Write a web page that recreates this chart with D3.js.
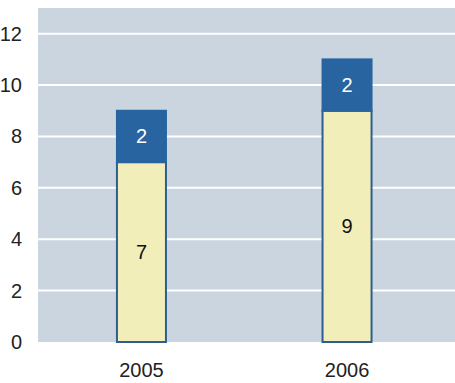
<!DOCTYPE html>
<html><head><meta charset="utf-8">
<script src="https://cdn.jsdelivr.net/npm/d3@7"></script>
<style>body{margin:0;background:#fff}svg{display:block}text{font-family:"Liberation Sans",Arial,sans-serif}</style>
</head><body>
<script>
const categories = ["2005", "2006"];
const lowerValues = [7, 9];
const upperValues = [2, 2];
const yTicks = [0, 2, 4, 6, 8, 10, 12];

const W = 455, H = 383;
const plot = {left: 38, right: 455, top: 8, bottom: 342};
const svg = d3.select("body").append("svg").attr("width", W).attr("height", H);

const y = d3.scaleLinear().domain([0, 13]).range([plot.bottom, plot.top]);
const x = d3.scaleBand().domain(categories).range([38, 450.5]).paddingInner(0.7616).paddingOuter(0.384);

svg.append("rect").attr("x", plot.left).attr("y", plot.top)
  .attr("width", plot.right - plot.left).attr("height", plot.bottom - plot.top)
  .attr("fill", "#CBD5E0");

svg.selectAll(".grid").data(yTicks.filter(d => d > 0)).enter().append("line")
  .attr("x1", plot.left).attr("x2", plot.right)
  .attr("y1", d => y(d)).attr("y2", d => y(d))
  .attr("stroke", "#fff").attr("stroke-width", 2);

const FS = 20;
const yAxis = d3.axisLeft(y).tickValues(yTicks).tickSize(0).tickPadding(0);
const ya = svg.append("g").attr("transform", "translate(22,0)").call(yAxis);
ya.select(".domain").remove();
ya.selectAll("text").attr("font-size", FS).attr("fill", "#222").attr("font-family", '"Liberation Sans",Arial,sans-serif');

const xAxis = d3.axisBottom(x).tickSize(0).tickPadding(0);
const xa = svg.append("g").attr("transform", "translate(0,363)").call(xAxis);
xa.select(".domain").remove();
xa.selectAll("text").attr("font-size", FS).attr("fill", "#222").attr("font-family", '"Liberation Sans",Arial,sans-serif');

const data = categories.map((c, i) => ({c, lo: lowerValues[i], up: upperValues[i]}));

svg.selectAll(".lo").data(data).enter().append("rect")
  .attr("x", d => x(d.c)).attr("width", x.bandwidth())
  .attr("y", d => y(d.lo)).attr("height", d => y(0) - y(d.lo))
  .attr("fill", "#F2EEBA").attr("stroke", "#2D5E8E").attr("stroke-width", 2);

svg.selectAll(".up").data(data).enter().append("rect")
  .attr("x", d => x(d.c)).attr("width", x.bandwidth())
  .attr("y", d => y(d.lo + d.up)).attr("height", d => y(d.lo) - y(d.lo + d.up))
  .attr("fill", "#2764A0").attr("stroke", "#2764A0").attr("stroke-width", 2);

svg.selectAll(".lol").data(data).enter().append("text")
  .attr("x", d => x(d.c) + x.bandwidth() / 2).attr("y", d => y(d.lo / 2))
  .attr("dy", "0.35em").attr("text-anchor", "middle").attr("font-size", FS).attr("fill", "#111")
  .text(d => d.lo);

svg.selectAll(".upl").data(data).enter().append("text")
  .attr("x", d => x(d.c) + x.bandwidth() / 2).attr("y", d => y(d.lo + d.up / 2))
  .attr("dy", "0.35em").attr("text-anchor", "middle").attr("font-size", FS).attr("fill", "#fff")
  .text(d => d.up);
</script>
</body></html>
